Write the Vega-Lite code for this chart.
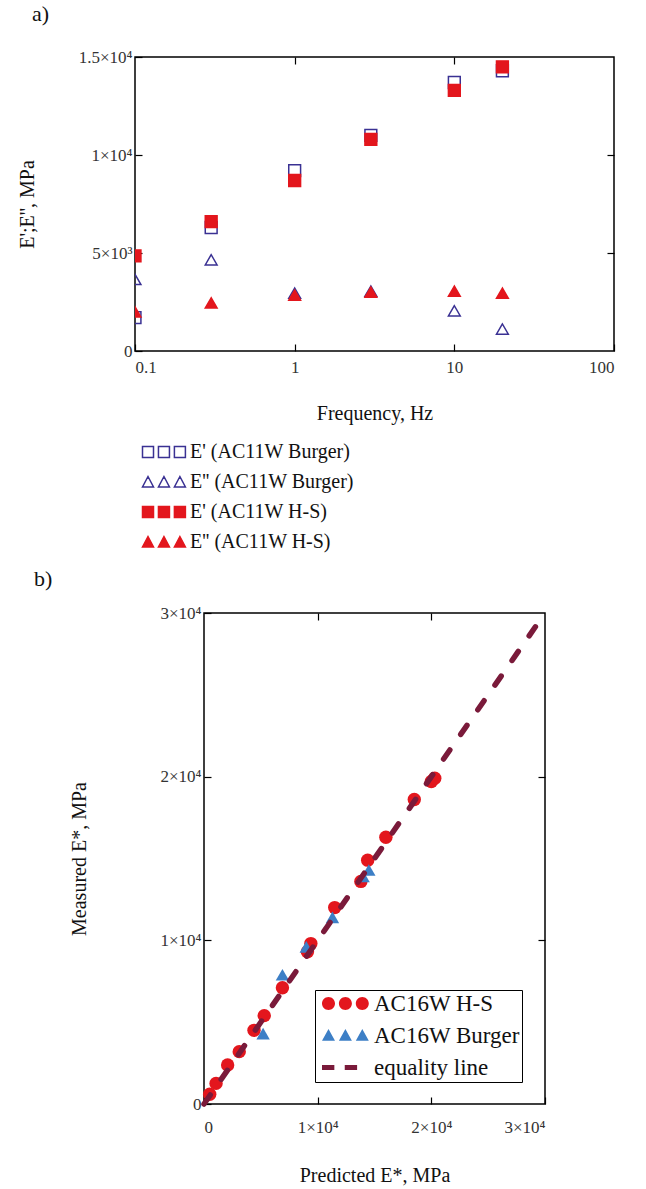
{
  "$schema": "https://vega.github.io/schema/vega-lite/v6.json",
  "background": "white",
  "padding": {"left": 16, "top": 2, "right": 5, "bottom": 5},
  "bounds": "flush",
  "center": true,
  "spacing": 262,
  "resolve": {
    "scale": {"shape": "independent", "fill": "independent", "stroke": "independent", "color": "independent"},
    "legend": {"shape": "independent", "fill": "independent", "stroke": "independent", "color": "independent"}
  },
  "config": {
    "font": "Liberation Serif",
    "view": {"stroke": "#000", "strokeWidth": 1.5},
    "axis": {"grid": false, "domain": false, "minExtent": 0, "labelFont": "Liberation Serif", "titleFont": "Liberation Serif", "labelFontSize": 17, "titleFontSize": 20, "titleFontWeight": "normal", "labelColor": "#333", "titleColor": "#111", "tickColor": "#000", "tickWidth": 1.2},
    "legend": {"labelFont": "Liberation Serif", "labelColor": "#111", "labelLimit": 400},
    "title": {"font": "Liberation Serif", "fontWeight": "normal", "fontSize": 22, "color": "#111"}
  },
  "vconcat": [
    {
      "width": 479,
      "height": 294,
      "title": {"text": "a)", "anchor": "start", "frame": "group", "dx": -103, "dy": 30, "offset": 30, "baseline": "bottom"},
      "data": {"values": [
        {"freq": 0.1, "E": 1700, "series": "E' (AC11W Burger)"},
        {"freq": 0.3, "E": 6300, "series": "E' (AC11W Burger)"},
        {"freq": 1, "E": 9200, "series": "E' (AC11W Burger)"},
        {"freq": 3, "E": 11000, "series": "E' (AC11W Burger)"},
        {"freq": 10, "E": 13700, "series": "E' (AC11W Burger)"},
        {"freq": 20, "E": 14300, "series": "E' (AC11W Burger)"},
        {"freq": 0.1, "E": 3650, "series": "E'' (AC11W Burger)"},
        {"freq": 0.3, "E": 4650, "series": "E'' (AC11W Burger)"},
        {"freq": 1, "E": 2950, "series": "E'' (AC11W Burger)"},
        {"freq": 3, "E": 3050, "series": "E'' (AC11W Burger)"},
        {"freq": 10, "E": 2050, "series": "E'' (AC11W Burger)"},
        {"freq": 20, "E": 1120, "series": "E'' (AC11W Burger)"},
        {"freq": 0.1, "E": 4850, "series": "E' (AC11W H-S)"},
        {"freq": 0.3, "E": 6600, "series": "E' (AC11W H-S)"},
        {"freq": 1, "E": 8700, "series": "E' (AC11W H-S)"},
        {"freq": 3, "E": 10800, "series": "E' (AC11W H-S)"},
        {"freq": 10, "E": 13300, "series": "E' (AC11W H-S)"},
        {"freq": 20, "E": 14500, "series": "E' (AC11W H-S)"},
        {"freq": 0.1, "E": 2000, "series": "E'' (AC11W H-S)"},
        {"freq": 0.3, "E": 2450, "series": "E'' (AC11W H-S)"},
        {"freq": 1, "E": 2850, "series": "E'' (AC11W H-S)"},
        {"freq": 3, "E": 3000, "series": "E'' (AC11W H-S)"},
        {"freq": 10, "E": 3050, "series": "E'' (AC11W H-S)"},
        {"freq": 20, "E": 2950, "series": "E'' (AC11W H-S)"}
      ]},
      "layer": [
        {
          "mark": {"type": "point", "opacity": 0, "clip": true},
          "encoding": {
            "x": {"field": "freq", "type": "quantitative", "scale": {"type": "log", "domain": [0.1, 100]}, "axis": {"orient": "top", "values": [1, 10], "labels": false, "title": null, "tickSize": -7}},
            "y": {"field": "E", "type": "quantitative", "scale": {"domain": [0, 15000]}, "axis": {"orient": "right", "values": [5000, 10000], "labels": false, "title": null, "tickSize": -7}}
          }
        },
        {
          "mark": {"type": "point", "size": 140, "strokeWidth": 1.5, "opacity": 1, "clip": true},
          "encoding": {
            "x": {"field": "freq", "type": "quantitative", "scale": {"type": "log", "domain": [0.1, 100]}, "axis": {"orient": "bottom", "values": [0.1, 1, 10, 100], "format": "~g", "title": "Frequency, Hz", "tickSize": -7, "labelPadding": 15, "titlePadding": 28}},
            "y": {"field": "E", "type": "quantitative", "scale": {"domain": [0, 15000]}, "axis": {"orient": "left", "values": [0, 5000, 10000, 15000], "labelExpr": "datum.value === 0 ? '0' : datum.value === 5000 ? '5×10³' : datum.value === 10000 ? '1×10⁴' : '1.5×10⁴'", "title": "E';E'', MPa", "tickSize": -7, "labelPadding": 10, "titlePadding": 41}},
            "shape": {"field": "series", "type": "nominal", "sort": null, "legend": null,
              "scale": {"domain": ["E' (AC11W Burger)", "E'' (AC11W Burger)", "E' (AC11W H-S)", "E'' (AC11W H-S)"], "range": ["square", "triangle-up", "square", "triangle-up"]}},
            "fill": {"field": "series", "type": "nominal", "sort": null, "legend": null,
              "scale": {"domain": ["E' (AC11W Burger)", "E'' (AC11W Burger)", "E' (AC11W H-S)", "E'' (AC11W H-S)"], "range": ["transparent", "transparent", "#e3161d", "#e3161d"]}},
            "stroke": {"field": "series", "type": "nominal", "sort": null, "legend": null,
              "scale": {"domain": ["E' (AC11W Burger)", "E'' (AC11W Burger)", "E' (AC11W H-S)", "E'' (AC11W H-S)"], "range": ["#3a3193", "#3a3193", "#e3161d", "#e3161d"]}}
          }
        },
        {
          "transform": [{"filter": "false"}],
          "mark": {"type": "point", "size": 121, "strokeWidth": 1.5, "opacity": 1},
          "encoding": {
            "x": {"field": "freq", "type": "quantitative", "scale": {"type": "log", "domain": [0.1, 100]}, "axis": null},
            "y": {"field": "E", "type": "quantitative", "scale": {"domain": [0, 15000]}, "axis": null},
            "shape": {"field": "series", "type": "nominal", "sort": null,
              "scale": {"domain": ["E' (AC11W Burger)", "E'' (AC11W Burger)", "E' (AC11W H-S)", "E'' (AC11W H-S)"], "range": ["M-1,-1H1V1H-1Z M1.9,-1H3.9V1H1.9Z M4.8,-1H6.8V1H4.8Z", "M0,-1L1,0.9H-1Z M2.9,-1L3.9,0.9H1.9Z M5.8,-1L6.8,0.9H4.8Z", "M-1,-1H1V1H-1Z M1.9,-1H3.9V1H1.9Z M4.8,-1H6.8V1H4.8Z", "M0,-1L1,0.9H-1Z M2.9,-1L3.9,0.9H1.9Z M5.8,-1L6.8,0.9H4.8Z"]},
              "legend": {
                "orient": "none", "legendX": 3, "legendY": 385, "title": null, "padding": 0,
                "labelFontSize": 20, "labelColor": "#111", "symbolSize": 121, "symbolStrokeWidth": 1.5, "symbolOpacity": 1, "labelOffset": 32, "rowPadding": 10
              }},
            "fill": {"field": "series", "type": "nominal", "sort": null,
              "scale": {"domain": ["E' (AC11W Burger)", "E'' (AC11W Burger)", "E' (AC11W H-S)", "E'' (AC11W H-S)"], "range": ["transparent", "transparent", "#e3161d", "#e3161d"]}},
            "stroke": {"field": "series", "type": "nominal", "sort": null,
              "scale": {"domain": ["E' (AC11W Burger)", "E'' (AC11W Burger)", "E' (AC11W H-S)", "E'' (AC11W H-S)"], "range": ["#3a3193", "#3a3193", "#e3161d", "#e3161d"]}}
          }
        }
      ],
      "resolve": {
        "axis": {"x": "independent", "y": "independent"},
        "scale": {"shape": "independent", "fill": "independent", "stroke": "independent"},
        "legend": {"shape": "independent", "fill": "independent", "stroke": "independent"}
      }
    },
    {
      "width": 341,
      "height": 491,
      "title": {"text": "b)", "anchor": "start", "frame": "group", "dx": -170, "dy": 28, "offset": 19, "baseline": "bottom"},
      "layer": [
        {
          "data": {"values": [
            {"pred": 500, "meas": 600, "series": "AC16W H-S"},
            {"pred": 1060, "meas": 1260, "series": "AC16W H-S"},
            {"pred": 2080, "meas": 2380, "series": "AC16W H-S"},
            {"pred": 3100, "meas": 3200, "series": "AC16W H-S"},
            {"pred": 4400, "meas": 4500, "series": "AC16W H-S"},
            {"pred": 5300, "meas": 5400, "series": "AC16W H-S"},
            {"pred": 6900, "meas": 7100, "series": "AC16W H-S"},
            {"pred": 9100, "meas": 9300, "series": "AC16W H-S"},
            {"pred": 9400, "meas": 9800, "series": "AC16W H-S"},
            {"pred": 11500, "meas": 12000, "series": "AC16W H-S"},
            {"pred": 13800, "meas": 13600, "series": "AC16W H-S"},
            {"pred": 14400, "meas": 14900, "series": "AC16W H-S"},
            {"pred": 16000, "meas": 16300, "series": "AC16W H-S"},
            {"pred": 18500, "meas": 18600, "series": "AC16W H-S"},
            {"pred": 20000, "meas": 19700, "series": "AC16W H-S"},
            {"pred": 20300, "meas": 19900, "series": "AC16W H-S"},
            {"pred": 5200, "meas": 4300, "series": "AC16W Burger"},
            {"pred": 6900, "meas": 7900, "series": "AC16W Burger"},
            {"pred": 9000, "meas": 9600, "series": "AC16W Burger"},
            {"pred": 11300, "meas": 11400, "series": "AC16W Burger"},
            {"pred": 14000, "meas": 13900, "series": "AC16W Burger"},
            {"pred": 14500, "meas": 14300, "series": "AC16W Burger"}
          ]},
          "mark": {"type": "point", "filled": true, "opacity": 1, "size": 180},
          "encoding": {
            "x": {"field": "pred", "type": "quantitative", "scale": {"domain": [0, 30000]}, "axis": {"orient": "bottom", "values": [0, 10000, 20000, 30000], "labelExpr": "datum.value === 0 ? '0' : (datum.value / 10000) + '×10⁴'", "title": "Predicted E*, MPa", "tickSize": -7, "labelPadding": 22, "titlePadding": 30}},
            "y": {"field": "meas", "type": "quantitative", "scale": {"domain": [0, 30000]}, "axis": {"orient": "left", "values": [0, 10000, 20000, 30000], "labelExpr": "datum.value === 0 ? '0' : (datum.value / 10000) + '×10⁴'", "title": "Measured E*, MPa", "tickSize": -7, "labelPadding": 10, "titlePadding": 70}},
            "shape": {"field": "series", "type": "nominal", "sort": null, "legend": null,
              "scale": {"domain": ["AC16W H-S", "AC16W Burger", "equality line"], "range": ["circle", "triangle-up", "square"]}},
            "color": {"field": "series", "type": "nominal", "sort": null, "legend": null,
              "scale": {"domain": ["AC16W H-S", "AC16W Burger", "equality line"], "range": ["#e3161d", "#3d7fc6", "#7a1a3a"]}}
          }
        },
        {
          "data": {"values": [
            {"pred": 0, "meas": 0},
            {"pred": 29200, "meas": 29200}
          ]},
          "mark": {"type": "line", "color": "#7a1a3a", "strokeWidth": 5.5, "strokeDash": [11, 19], "strokeCap": "round"},
          "encoding": {
            "x": {"field": "pred", "type": "quantitative", "scale": {"domain": [0, 30000]}, "axis": {"orient": "top", "values": [10000, 20000], "labels": false, "title": null, "tickSize": -7}},
            "y": {"field": "meas", "type": "quantitative", "scale": {"domain": [0, 30000]}, "axis": {"orient": "right", "values": [10000, 20000], "labels": false, "title": null, "tickSize": -7}}
          }
        },
        {
          "data": {"values": [
            {"pred": 0, "meas": 0, "series": "AC16W H-S"}
          ]},
          "transform": [{"filter": "false"}],
          "mark": {"type": "point", "filled": true, "opacity": 1, "size": 169},
          "encoding": {
            "x": {"field": "pred", "type": "quantitative", "scale": {"domain": [0, 30000]}, "axis": null},
            "y": {"field": "meas", "type": "quantitative", "scale": {"domain": [0, 30000]}, "axis": null},
            "shape": {"field": "series", "type": "nominal", "sort": null,
              "scale": {"domain": ["AC16W H-S", "AC16W Burger", "equality line"], "range": ["M-1,0A1,1 0 1,1 1,0A1,1 0 1,1 -1,0Z M1.6,0A1,1 0 1,1 3.6,0A1,1 0 1,1 1.6,0Z M4.2,0A1,1 0 1,1 6.2,0A1,1 0 1,1 4.2,0Z", "M0,-1L1,0.8H-1Z M2.6,-1L3.6,0.8H1.6Z M5.2,-1L6.2,0.8H4.2Z", "M-1,-0.4H0.9V0.4H-1Z M2.5,-0.4H4.4V0.4H2.5Z"]},
              "legend": {
                "orient": "none", "legendX": 111, "legendY": 377, "title": null, "padding": 2,
                "strokeColor": "#000", "fillColor": "white",
                "labelFontSize": 23, "labelColor": "#111", "symbolSize": 169, "symbolStrokeWidth": 0, "symbolOpacity": 1, "labelOffset": 34, "rowPadding": 8,
                "encode": {"legend": {"strokeWidth": {"value": 1.5}}}
              }},
            "color": {"field": "series", "type": "nominal", "sort": null,
              "scale": {"domain": ["AC16W H-S", "AC16W Burger", "equality line"], "range": ["#e3161d", "#3d7fc6", "#7a1a3a"]}}
          }
        }
      ],
      "resolve": {
        "axis": {"x": "independent", "y": "independent"},
        "scale": {"shape": "independent", "color": "independent"},
        "legend": {"shape": "independent", "color": "independent"}
      }
    }
  ]
}
